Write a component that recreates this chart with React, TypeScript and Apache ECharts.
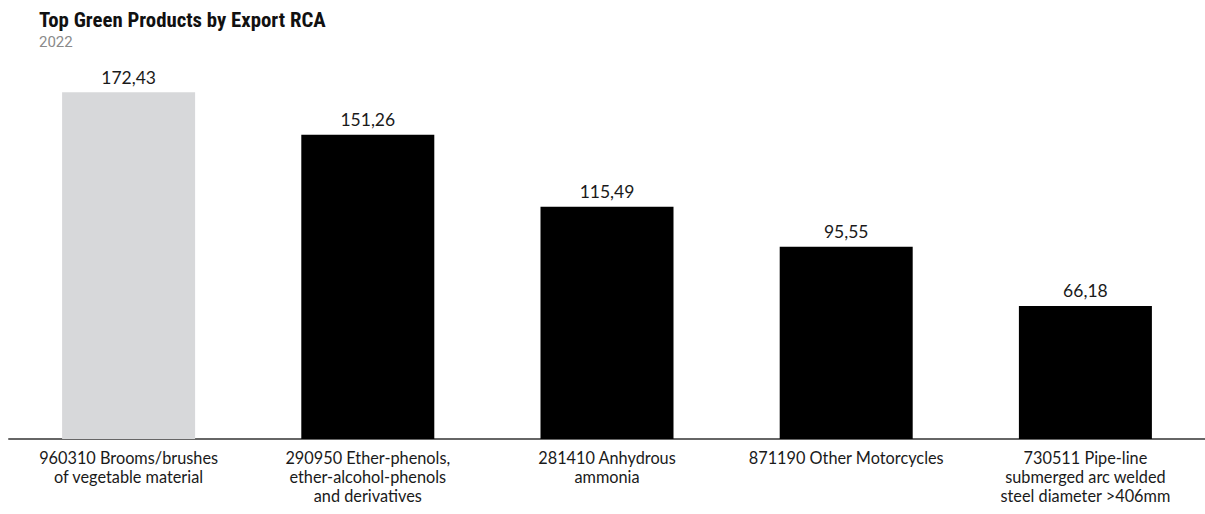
import React, { useEffect, useRef } from "react";
import * as echarts from "echarts";

const categories: string[] = [
  "960310 Brooms/brushes\nof vegetable material",
  "290950 Ether-phenols,\nether-alcohol-phenols\nand derivatives",
  "281410 Anhydrous\nammonia",
  "871190 Other Motorcycles",
  "730511 Pipe-line\nsubmerged arc welded\nsteel diameter >406mm",
];
const values: number[] = [172.43, 151.26, 115.49, 95.55, 66.18];
const barColors: string[] = ["#d7d8da", "#000000", "#000000", "#000000", "#000000"];

const titleText = "Top Green Products by Export RCA";
const subtitleText = "2022";

export default function App() {
  const ref = useRef<HTMLDivElement>(null);
  useEffect(() => {
    if (!ref.current) return;
    const chart = echarts.init(ref.current, null, { renderer: "svg" });
    const font = "Lato, 'Open Sans', sans-serif";
    chart.setOption({
      animation: false,
      backgroundColor: "#ffffff",
      title: {
        text: titleText,
        subtext: subtitleText,
        left: 34,
        top: 4,
        itemGap: 4,
        textStyle: {
          fontFamily: "'Liberation Sans Narrow', 'Roboto Condensed', Roboto, sans-serif",
          fontWeight: "bold",
          fontSize: 20.8,
          color: "#111111",
        },
        subtextStyle: {
          fontFamily: "Roboto, sans-serif",
          fontSize: 15,
          color: "#8a8a8a",
        },
      },
      grid: { left: 9, right: 0, top: 77, bottom: 75, containLabel: false },
      xAxis: {
        type: "category",
        data: categories,
        axisLine: { show: true, lineStyle: { color: "#666666", width: 2 } },
        axisTick: { show: false },
        axisLabel: {
          interval: 0,
          fontFamily: font,
          fontSize: 16.3,
          lineHeight: 19,
          color: "#1a1a1a",
          margin: 9,
        },
      },
      yAxis: {
        type: "value",
        min: 0,
        max: 180,
        show: false,
        splitLine: { show: false },
      },
      series: [
        {
          type: "bar",
          barWidth: 133,
          data: values.map((v, i) => ({ value: v, itemStyle: { color: barColors[i] } })),
          label: {
            show: true,
            position: "top",
            distance: 6,
            fontFamily: font,
            fontSize: 17.5,
            color: "#1a1a1a",
            formatter: (p: any) => Number(p.value).toFixed(2).replace(".", ","),
          },
        },
      ],
    });
    return () => chart.dispose();
  }, []);
  return (
    <div
      ref={ref}
      style={{ position: "fixed", left: 0, top: 0, width: 1205, height: 514, background: "#fff" }}
    />
  );
}
